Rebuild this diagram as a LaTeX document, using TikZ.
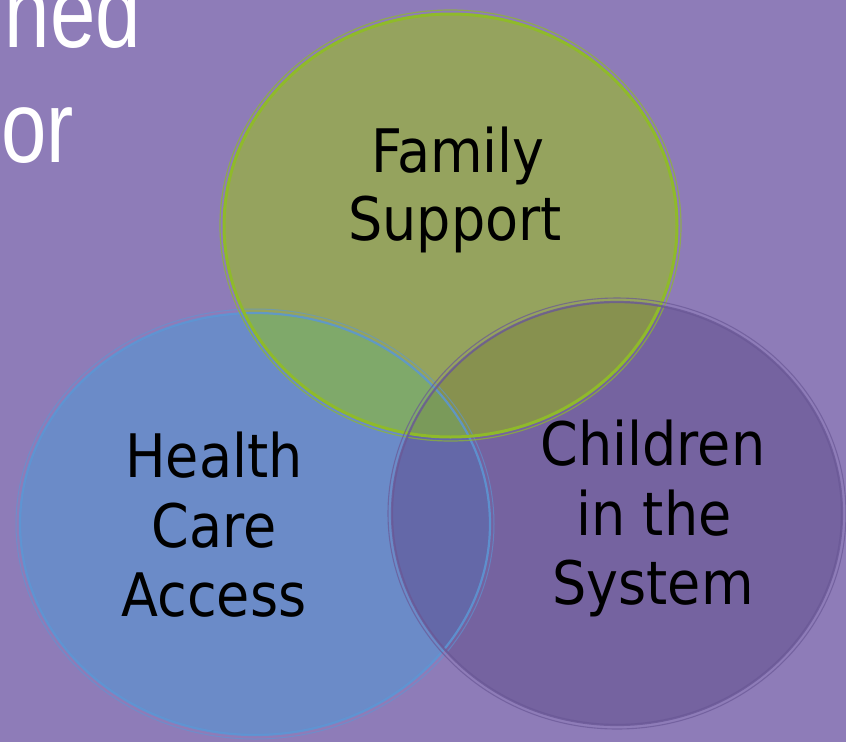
\documentclass[tikz,border=0pt]{standalone}
\usepackage{fontspec}
\setmainfont{Liberation Sans}
\newfontfamily\titlefont[FakeStretch=0.8]{Liberation Sans}
\newfontfamily\labfont[FakeStretch=0.9]{DejaVu Sans}
\definecolor{bgc}{HTML}{8E7CB8}
\definecolor{greenF}{HTML}{95A35E}
\definecolor{blueF}{HTML}{6B8BC8}
\definecolor{purpF}{HTML}{7563A0}
\definecolor{bgF}{HTML}{7FA96A}
\definecolor{gpF}{HTML}{87914F}
\definecolor{bpF}{HTML}{6468A8}
\definecolor{triF}{HTML}{7A9A5A}
\definecolor{greenL}{HTML}{8FBA2A}
\definecolor{blueL}{HTML}{5B97D5}
\definecolor{purpL}{HTML}{6A5896}
\tikzset{
  lab/.style={font=\labfont\fontsize{60}{68}\selectfont, text=black, anchor=base, inner sep=0pt},
  ttl/.style={font=\titlefont\fontsize{102}{110}\selectfont, text=white, anchor=base east, inner sep=0pt},
}
\begin{document}
\begin{tikzpicture}[x=1pt,y=-1pt]
\useasboundingbox (0,0) rectangle (846,742);
\fill[bgc] (0,0) rectangle (846,742);
% title fragments
\node[ttl] (t1) at (141,47) {ned};
\node[ttl] (t2) at (74,162) {or};
% fills
\def\gE{(450.5,225.5) ellipse [x radius=226.5, y radius=211.5]}
\def\bE{(255,524) ellipse [x radius=235, y radius=211]}
\def\pE{(617,513.5) ellipse [x radius=225, y radius=211.5]}
\fill[blueF] \bE;
\fill[greenF] \gE;
\fill[purpF] \pE;
\begin{scope}\clip \bE; \fill[bgF] \gE; \end{scope}
\begin{scope}\clip \gE; \fill[gpF] \pE; \end{scope}
\begin{scope}\clip \bE; \fill[bpF] \pE; \end{scope}
\begin{scope}\clip \bE; \clip \gE; \fill[triF] \pE; \end{scope}
% outlines
\draw[blueL, line width=2.2pt, opacity=0.85] \bE;
\draw[blueL, line width=1pt, opacity=0.6] (255,524) ellipse [x radius=239, y radius=215];
\draw[greenL, line width=3pt] \gE;
\draw[greenL, line width=1.2pt, opacity=0.7] (450.5,225.5) ellipse [x radius=230.5, y radius=215.5];
\draw[purpL, line width=2.2pt, opacity=0.8] \pE;
\draw[purpL, line width=1.1pt, opacity=0.7] (617,513.5) ellipse [x radius=229, y radius=215.5];
% labels
\node[lab] (f1) at (458,172) {Family};
\node[lab] (f2) at (455,240) {Support};
\node[lab] (h1) at (214,477) {Health};
\node[lab] (h2) at (214,547) {Care};
\node[lab] (h3) at (214,616) {Access};
\node[lab] (c1) at (653,465) {Children};
\node[lab] (c2) at (654,535) {in the};
\node[lab] (c3) at (653,604) {System};
\end{tikzpicture}
\end{document}
